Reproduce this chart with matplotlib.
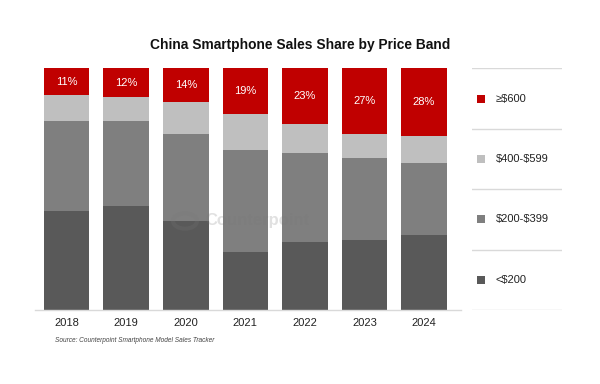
import matplotlib
matplotlib.use("Agg")
import matplotlib.pyplot as plt
from matplotlib.patches import Circle
import numpy as np

plt.rcParams['font.family'] = ['Liberation Sans', 'DejaVu Sans']

years = ["2018", "2019", "2020", "2021", "2022", "2023", "2024"]
under_200 = [41, 43, 37, 24, 28, 29, 31]
band_200_399 = [37, 35, 36, 42, 37, 34, 30]
band_400_599 = [11, 10, 13, 15, 12, 10, 11]
over_600 = [11, 12, 14, 19, 23, 27, 28]

series_names = ["<\\$200", "\\$200-\\$399", "\\$400-\\$599", "≥\\$600"]
colors = ["#595959", "#7F7F7F", "#BFBFBF", "#C00000"]

fig = plt.figure(figsize=(6, 3.84), dpi=100)
ax = fig.add_axes([35/600, 1-310/384, 426/600, (310-68.3)/384])

x = np.arange(len(years))
series = [under_200, band_200_399, band_400_599, over_600]
bottom = np.zeros(len(years))
for vals, c in zip(series, colors):
    ax.bar(x, vals, bottom=bottom, width=0.765, color=c, edgecolor='none', zorder=2)
    bottom += np.array(vals)

# labels for top segment
top_bottom = bottom - np.array(over_600)
for xi, b, v in zip(x, top_bottom, over_600):
    ax.text(xi, b + v/2, f"{v}%", ha='center', va='center', color='white', fontsize=8, zorder=3)

ax.set_xlim(-0.53, 6.62)
ax.set_ylim(0, 100)
ax.set_yticks([])
ax.set_xticks(x)
ax.set_xticklabels(years, fontsize=8, color='#222222')
ax.tick_params(axis='x', length=0, pad=6)
for s in ['top', 'right', 'left']:
    ax.spines[s].set_visible(False)
ax.spines['bottom'].set_color('#D9D9D9')
ax.spines['bottom'].set_linewidth(1.0)

# legend as table on the right
lax = fig.add_axes([471.7/600, 1-310/384, 90/600, (310-68.3)/384])
lax.set_xlim(0, 1)
lax.set_ylim(0, 100)
lax.axis('off')
for yv in [0, 25, 50, 75, 100]:
    lax.axhline(yv, color='#D9D9D9', lw=1.0)
for i, (name, c) in enumerate(zip(series_names, colors)):
    yc = 12.5 + 25*i
    lax.scatter([0.1], [yc], marker='s', s=38, color=c, linewidths=0)
    lax.text(0.27, yc, name, va='center', ha='left', fontsize=8, color='#222222')

fig.text(300/600, 1-45/384, "China Smartphone Sales Share by Price Band",
         ha='center', va='center', fontsize=9.9, fontweight='bold', color='#111111')

fig.text(55/600, 1-340/384, "Source: Counterpoint Smartphone Model Sales Tracker",
         ha='left', va='center', fontsize=4.7, style='italic', color='#444444')

# watermark
fig.patches.append(Circle((185/600, 1-221/384), 0.02, transform=fig.transFigure,
                          fill=False, lw=3, edgecolor='#777777', alpha=0.22, zorder=10))
fig.text(205/600, 1-221/384, "Counterpoint", ha='left', va='center', fontsize=12,
         fontweight='bold', color='#777777', alpha=0.22, zorder=10)

fig.savefig("out.png", dpi=100)
